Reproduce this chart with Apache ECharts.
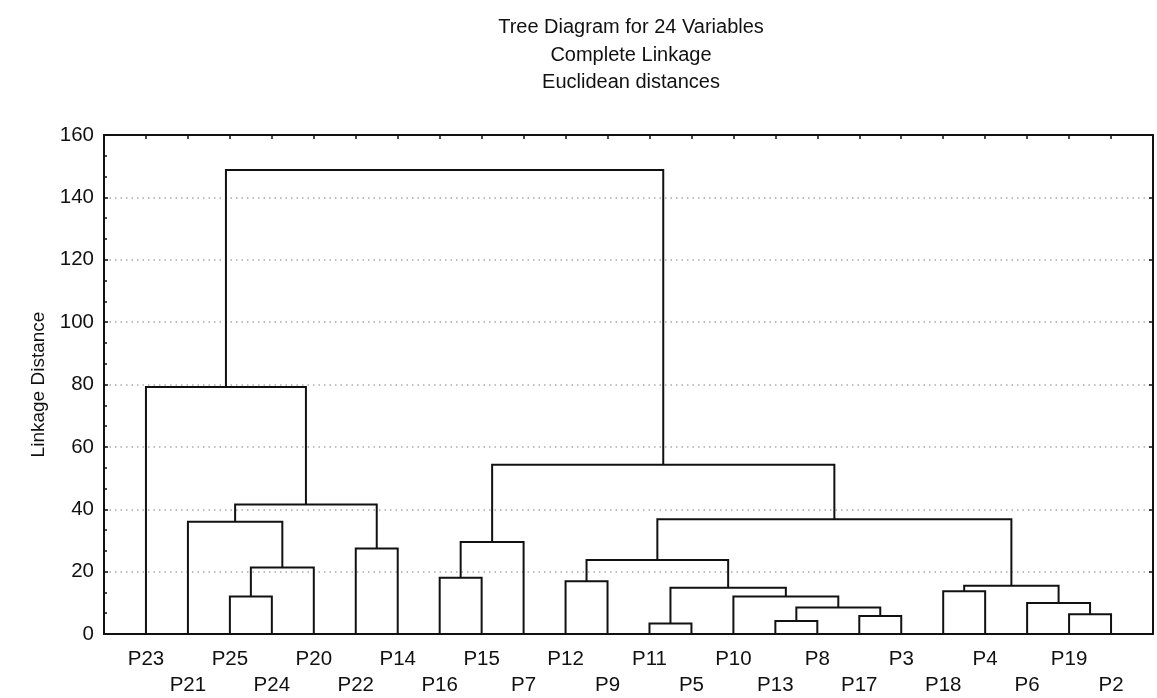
<!DOCTYPE html>
<html>
<head>
<meta charset="utf-8">
<script src="https://cdn.jsdelivr.net/npm/echarts@6/dist/echarts.min.js"></script>
<style>
html,body{margin:0;padding:0;background:#fff;}
#chart{width:1157px;height:698px;}
</style>
</head>
<body>
<div id="chart"></div>
<script>
// Leaf order along the x axis
const leaves = ['P23','P21','P25','P24','P20','P22','P14','P16','P15','P7','P12','P9','P11','P5','P10','P13','P8','P17','P3','P18','P4','P6','P19','P2'];
// Merges: children are leaf names or '#k' (k-th merge), with linkage distance
const mergeLeft   = ['P25','#0','P21','P22','#2','P23','P16','#6','P12','P11','P13','P17','#10','P10','#9','#8','P18','P19','P6','#16','#15','#7','#5'];
const mergeRight  = ['P24','P20','#1','P14','#3','#4','P15','P7','P9','P5','P8','P3','#11','#12','#13','#14','P4','P2','#17','#18','#19','#20','#21'];
const mergeHeight = [12, 21.3, 36, 27.4, 41.5, 79.2, 18, 29.5, 16.9, 3.4, 4.2, 5.8, 8.5, 12, 14.8, 23.7, 13.7, 6.3, 9.9, 15.5, 36.8, 54.3, 148.8];
const yTicks = [0, 20, 40, 60, 80, 100, 120, 140, 160];
const titleLines = ['Tree Diagram for 24 Variables', 'Complete Linkage', 'Euclidean distances'];
const yName = 'Linkage Distance';

// Resolve node positions (x = leaf index / midpoint, y = height)
const nodePos = [];
function pos(id) {
  if (id.charAt(0) === '#') return nodePos[parseInt(id.slice(1), 10)];
  return [leaves.indexOf(id), 0];
}
const links = [];
for (let i = 0; i < mergeHeight.length; i++) {
  const a = pos(mergeLeft[i]);
  const b = pos(mergeRight[i]);
  const h = mergeHeight[i];
  nodePos[i] = [(a[0] + b[0]) / 2, h];
  links.push([a[0], a[1], b[0], b[1], h]);
}

const FONT = '"Liberation Sans", Arial, sans-serif';
const chart = echarts.init(document.getElementById('chart'));
chart.setOption({
  animation: false,
  backgroundColor: '#fff',
  title: {
    text: titleLines.join('\n'),
    left: 626,
    textAlign: 'center',
    top: 9,
    textStyle: { fontFamily: FONT, fontSize: 20, fontWeight: 'normal', color: '#111', lineHeight: 27.5 }
  },
  grid: { left: 104, right: 4, top: 135, bottom: 63, containLabel: false },
  xAxis: [{
    type: 'value', min: -1, max: leaves.length, interval: 1, position: 'bottom',
    axisLine: { show: true, onZero: false, lineStyle: { color: '#111', width: 2 } },
    axisTick: { show: false },
    splitLine: { show: false },
    axisLabel: {
      fontFamily: FONT, fontSize: 20.5, color: '#111', margin: 12, lineHeight: 26,
      showMinLabel: true, showMaxLabel: true,
      formatter: function (v) {
        const i = Math.round(v);
        if (i < 0 || i >= leaves.length) return '';
        return (i % 2 === 1 ? '\n' : '') + leaves[i];
      }
    }
  }, {
    type: 'value', min: -1, max: leaves.length, interval: 1, position: 'top',
    axisLine: { show: true, onZero: false, lineStyle: { color: '#111', width: 2 } },
    axisTick: { show: true, inside: true, length: 4, lineStyle: { color: '#111', width: 1.5 } },
    splitLine: { show: false },
    axisLabel: { show: false }
  }],
  yAxis: [{
    type: 'value', min: yTicks[0], max: yTicks[yTicks.length - 1], interval: yTicks[1] - yTicks[0], position: 'left',
    name: yName, nameLocation: 'middle', nameGap: 56, nameRotate: 90,
    nameTextStyle: { fontFamily: FONT, fontSize: 19, color: '#111' },
    axisLine: { show: true, onZero: false, lineStyle: { color: '#111', width: 2 } },
    axisTick: { show: true, inside: true, length: 4, lineStyle: { color: '#111', width: 1.5 } },
    minorTick: { show: true, splitNumber: 3, length: 3, lineStyle: { color: '#111', width: 1.5 } },
    splitLine: { show: true, lineStyle: { color: '#aaa', width: 1.5, type: [1.5, 4] } },
    axisLabel: { fontFamily: FONT, fontSize: 20.5, color: '#111', margin: 10 }
  }, {
    type: 'value', min: yTicks[0], max: yTicks[yTicks.length - 1], interval: yTicks[1] - yTicks[0], position: 'right',
    axisLine: { show: true, onZero: false, lineStyle: { color: '#111', width: 2 } },
    axisTick: { show: true, inside: true, length: 4, lineStyle: { color: '#111', width: 1.5 } },
    splitLine: { show: false },
    axisLabel: { show: false }
  }],
  series: [{
    type: 'custom',
    xAxisIndex: 0, yAxisIndex: 0,
    data: links,
    renderItem: function (params, api) {
      const p1 = api.coord([api.value(0), api.value(1)]);
      const p2 = api.coord([api.value(0), api.value(4)]);
      const p3 = api.coord([api.value(2), api.value(4)]);
      const p4 = api.coord([api.value(2), api.value(3)]);
      return {
        type: 'polyline',
        shape: { points: [p1, p2, p3, p4] },
        style: { stroke: '#111', lineWidth: 2, fill: null }
      };
    },
    encode: { x: [0, 2], y: [1, 3, 4] }
  }]
});
</script>
</body>
</html>
